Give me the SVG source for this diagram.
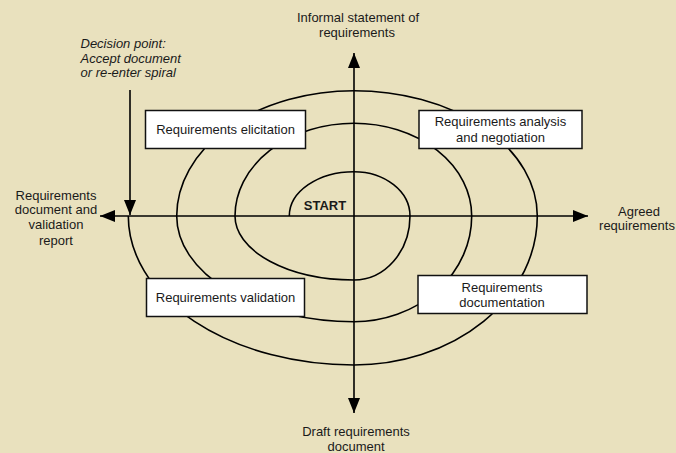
<svg xmlns="http://www.w3.org/2000/svg" width="676" height="453" viewBox="0 0 676 453">
<defs>
<marker id="ah" markerUnits="userSpaceOnUse" markerWidth="16" markerHeight="12" refX="15" refY="6" orient="auto">
<path d="M0,0 L15,6 L0,12 Z" fill="#000"/>
</marker>
</defs>
<style>
.bg{fill:#E9E1BE}
.line{fill:none;stroke:#000;stroke-width:1.6}
.box{fill:#fff;stroke:#111;stroke-width:1.5}
.t{font-family:"Liberation Sans",Arial,sans-serif;font-size:13px;fill:#1a1a1a;text-anchor:middle}
.it{font-family:"Liberation Sans",Arial,sans-serif;font-size:13px;font-style:italic;fill:#1a1a1a}
.b{font-family:"Liberation Sans",Arial,sans-serif;font-size:13px;font-weight:bold;fill:#1a1a1a;text-anchor:middle}
</style>
<rect class="bg" x="0" y="0" width="676" height="453"/>
<g id="connectors">
<line class="line" x1="354" y1="216" x2="354" y2="53" marker-end="url(#ah)"/>
<line class="line" x1="354" y1="216" x2="354" y2="413" marker-end="url(#ah)"/>
<line class="line" x1="354" y1="216" x2="100" y2="216" marker-end="url(#ah)"/>
<line class="line" x1="354" y1="216" x2="588" y2="216" marker-end="url(#ah)"/>
<line class="line" x1="130" y1="90" x2="130" y2="215" marker-end="url(#ah)"/>
<path id="spiral" class="line" d="M289.3,216 A64.7,44.3 0 0 1 354,171.7 A56,44.3 0 0 1 410,216 A56,64 0 0 1 354,280 A119,64 0 0 1 235,216 A119,92.7 0 0 1 354,123.3 A117.7,92.7 0 0 1 471.7,216 A117.7,105.7 0 0 1 354,321.7 A177.3,105.7 0 0 1 176.7,216 A177.3,125.3 0 0 1 354,90.7 A183.3,125.3 0 0 1 537.3,216 A183.3,149 0 0 1 354,365 A225.7,149 0 0 1 128.3,216"/>
</g>
<g id="start">
<text class="b" x="325" y="210">START</text>
</g>
<g id="elicitation">
<rect class="box" x="145.5" y="110.5" width="160" height="38"/>
<text class="t" x="225.5" y="134">Requirements elicitation</text>
</g>
<g id="analysis">
<rect class="box" x="419" y="110.5" width="163" height="38"/>
<text class="t" x="500.5" y="126">Requirements analysis</text>
<text class="t" x="500.5" y="141.5">and negotiation</text>
</g>
<g id="validation">
<rect class="box" x="146.5" y="278.5" width="158" height="38"/>
<text class="t" x="225.5" y="302">Requirements validation</text>
</g>
<g id="documentation">
<rect class="box" x="418" y="275.5" width="169" height="38"/>
<text class="t" x="502" y="292">Requirements</text>
<text class="t" x="502" y="307">documentation</text>
</g>
<g id="informal">
<text class="t" x="358" y="22">Informal statement of</text>
<text class="t" x="357" y="37">requirements</text>
</g>
<g id="decision">
<text class="it" x="80.5" y="48">Decision point:</text>
<text class="it" x="80.5" y="63">Accept document</text>
<text class="it" x="80.5" y="77">or re-enter spiral</text>
</g>
<g id="reqdoc">
<text class="t" x="56" y="199.5">Requirements</text>
<text class="t" x="56" y="214">document and</text>
<text class="t" x="56" y="229">validation</text>
<text class="t" x="56" y="244.5">report</text>
</g>
<g id="agreed">
<text class="t" x="639" y="215.5">Agreed</text>
<text class="t" x="637" y="230">requirements</text>
</g>
<g id="draft">
<text class="t" x="356" y="436">Draft requirements</text>
<text class="t" x="356" y="451">document</text>
</g>
</svg>
